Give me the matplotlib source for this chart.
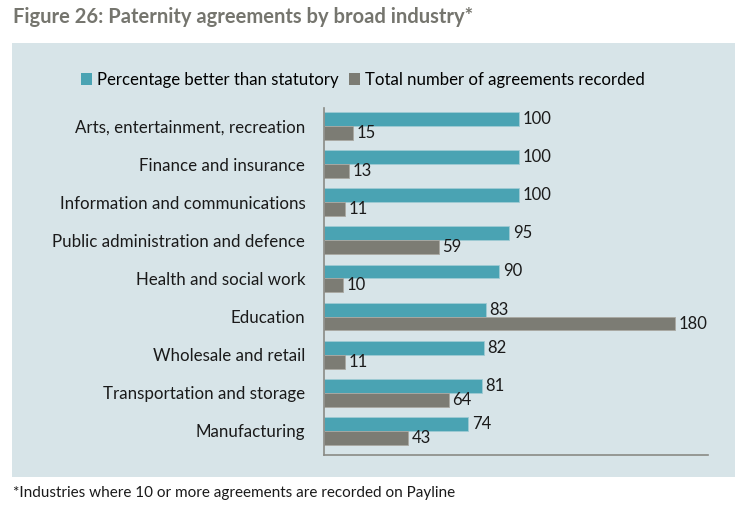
import matplotlib
matplotlib.use("Agg")
import matplotlib.pyplot as plt
from matplotlib.patches import Rectangle
import numpy as np

plt.rcParams['font.family'] = ['Lato', 'DejaVu Sans']

industries = ["Arts, entertainment, recreation", "Finance and insurance",
              "Information and communications", "Public administration and defence",
              "Health and social work", "Education", "Wholesale and retail",
              "Transportation and storage", "Manufacturing"]
pct_better = [100, 100, 100, 95, 90, 83, 82, 81, 74]
total_agreements = [15, 13, 11, 59, 10, 180, 11, 64, 43]
series_names = ["Percentage better than statutory", "Total number of agreements recorded"]

teal = "#4AA3B3"
grey = "#7C7C74"
panel = "#D7E4E8"

fig = plt.figure(figsize=(7.5, 5.13), dpi=100)
fig.patch.set_facecolor("white")
fig.patches.append(Rectangle((12/750, 1-477/513), (735-12)/750, (477-43)/513,
                             transform=fig.transFigure, facecolor=panel, edgecolor="none", zorder=-5))

ax = fig.add_axes([324/750, 1-455/513, (708-324)/750, (455-108)/513])
ax.set_zorder(2)
ax.set_facecolor("none")

n = len(industries)
y = np.arange(n)[::-1].astype(float)
h = 0.365
b1 = ax.barh(y + h/2, pct_better, height=h, color=teal, edgecolor="#9FCBD4", linewidth=0.6,
             label=series_names[0])
b2 = ax.barh(y - h/2, total_agreements, height=h, color=grey, edgecolor="#A9A9A2", linewidth=0.6,
             label=series_names[1])
for bars, vals in ((b1, pct_better), (b2, total_agreements)):
    for r, v in zip(bars, vals):
        ax.text(r.get_width() + 1.8, r.get_y() + r.get_height()/2, str(v),
                va="center", ha="left", fontsize=12, color="#1a1a1a")

ax.set_xlim(0, 197)
ax.set_ylim(-0.63, n - 1 + 0.47)
ax.set_yticks(y)
ax.set_yticklabels(industries, fontsize=12.2, color="#1a1a1a")
ax.tick_params(axis="y", length=0, pad=13.5)
ax.set_xticks([])
for s in ("top", "right"):
    ax.spines[s].set_visible(False)
for s in ("left", "bottom"):
    ax.spines[s].set_color("#8A8A85")
    ax.spines[s].set_linewidth(1.2)

leg_handles = [Rectangle((0, 0), 1, 1, facecolor=teal, edgecolor="none"),
               Rectangle((0, 0), 1, 1, facecolor=grey, edgecolor="none")]
leg = fig.legend(handles=leg_handles, labels=series_names, loc="center left",
                 bbox_to_anchor=(81/750, 1-80/513), ncol=2, frameon=False,
                 fontsize=12.1, handlelength=0.66, handleheight=0.66, handletextpad=0.3,
                 columnspacing=0.6, borderaxespad=0, borderpad=0)

fig.text(13/750, 1-17/513, "Figure 26: Paternity agreements by broad industry*",
         fontsize=14.5, fontweight="bold", color="#75756E", va="center", ha="left")
fig.text(13/750, 1-493/513, "*Industries where 10 or more agreements are recorded on Payline",
         fontsize=11, color="#1a1a1a", va="center", ha="left")

fig.savefig("out.png", dpi=100)
